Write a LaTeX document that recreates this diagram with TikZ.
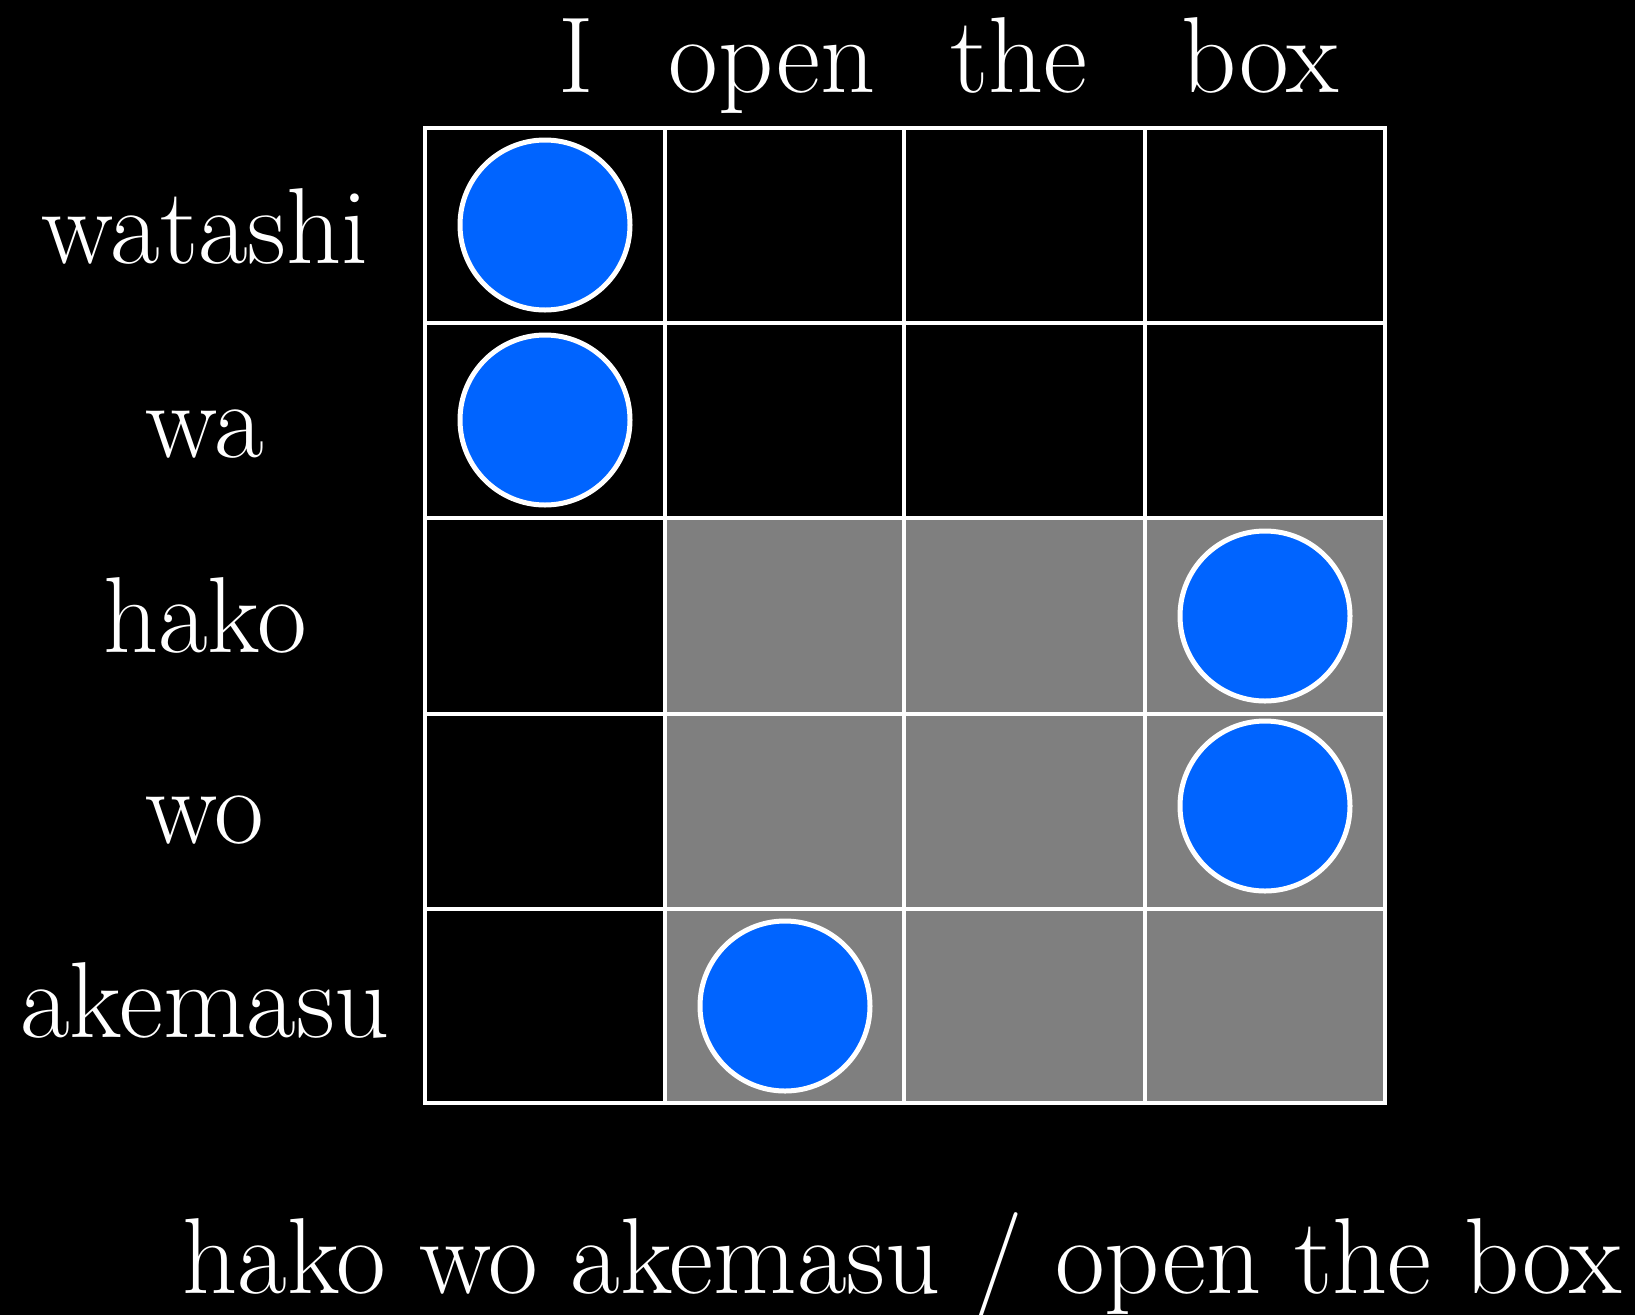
\documentclass[tikz,border=0pt]{standalone}
\definecolor{dotblue}{RGB}{0,100,255}
\definecolor{cellgray}{RGB}{127,127,127}
\begin{document}
\begin{tikzpicture}[x=1pt,y=-1pt,
  lab/.style={text=white, font=\fontsize{108}{120}\selectfont, inner sep=0pt, anchor=base},
  dot/.style={circle, fill=dotblue, draw=white, line width=5pt, minimum size=170pt, inner sep=0pt},
  gridline/.style={draw=white, line width=4pt, line cap=rect}]
\fill[black] (0,0) rectangle (1635,1315);
\useasboundingbox (0,0) rectangle (1635,1315);
% gray region
\fill[cellgray] (665,518) rectangle (1385,1103);
% grid
\foreach \x in {425,665,904,1145,1385} \draw[gridline] (\x,128) -- (\x,1103);
\foreach \y in {128,323,518,714,909,1103} \draw[gridline] (425,\y) -- (1385,\y);
% column labels
\node[lab] (cI) at (576,92) {I};
\node[lab] (cOpen) at (772,92) {open};
\node[lab] (cThe) at (1019,92) {the};
\node[lab] (cBox) at (1260,92) {box};
% row labels
\node[lab] (rWatashi) at (205,263) {watashi};
\node[lab] (rWa) at (205,457) {wa};
\node[lab] (rHako) at (205,652) {hako};
\node[lab] (rWo) at (205,843) {wo};
\node[lab] (rAkemasu) at (205,1037) {akemasu};
% dots
\node[dot] (d1) at (545,225) {};
\node[dot] (d2) at (545,420) {};
\node[dot] (d3) at (1265,616) {};
\node[dot] (d4) at (1265,806) {};
\node[dot] (d5) at (785,1006) {};
% caption
\node[lab] (caption) at (902,1293) {hako wo akemasu / open the box};
\end{tikzpicture}
\end{document}
